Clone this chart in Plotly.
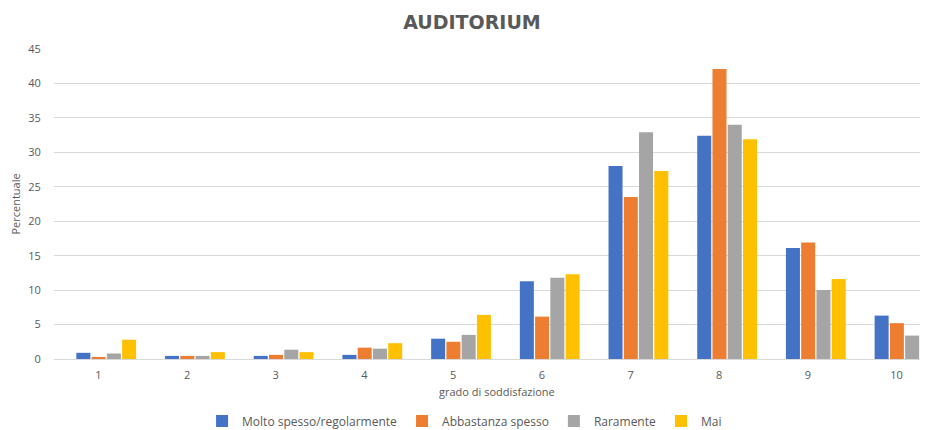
import plotly.graph_objects as go

categories = [1, 2, 3, 4, 5, 6, 7, 8, 9, 10]
tick_labels = ["1", "2", "3", "4", "5", "6", "7", "8", "9", "10"]
molto_spesso = [0.9, 0.45, 0.45, 0.6, 2.95, 11.3, 28.0, 32.4, 16.1, 6.3]
abbastanza_spesso = [0.3, 0.45, 0.6, 1.65, 2.5, 6.15, 23.5, 42.1, 16.9, 5.2]
raramente = [0.8, 0.45, 1.35, 1.5, 3.5, 11.8, 32.9, 34.0, 10.0, 3.4]
mai = [2.8, 1.0, 1.0, 2.3, 6.4, 12.3, 27.3, 31.9, 11.6, 2.8]
y_ticks = [0, 5, 10, 15, 20, 25, 30, 35, 40, 45]

series = [
    ("Molto spesso/regolarmente", molto_spesso, "#4472C4"),
    ("Abbastanza spesso", abbastanza_spesso, "#ED7D31"),
    ("Raramente", raramente, "#A5A5A5"),
    ("Mai", mai, "#FFC000"),
]

FONT = "Open Sans"
TXT = "#595959"

bar_w = 0.158
offsets = [-0.248, -0.076, 0.096, 0.268]

fig = go.Figure()
for (name, vals, color), off in zip(series, offsets):
    fig.add_trace(go.Bar(
        x=categories, y=vals, name=name,
        marker=dict(color=color, line=dict(width=0)),
        width=bar_w, offset=off,
    ))

# page body has an 8px margin; layout compensates for it
fig.update_layout(
    width=928, height=430,
    margin=dict(l=46, r=0, t=41, b=79, autoexpand=False),
    paper_bgcolor="white", plot_bgcolor="white",
    font=dict(family=FONT, color=TXT, size=11),
    title=dict(text="<b>AUDITORIUM</b>", x=0.5, xanchor="center",
               y=1 - 14/430, yanchor="middle",
               font=dict(family="DejaVu Sans", size=19, color=TXT)),
    barmode="overlay",
    showlegend=True,
    legend=dict(orientation="h", xref="container", x=0.492, xanchor="center",
                yref="container", y=1 - 413/430, yanchor="middle",
                font=dict(family=FONT, size=12, color=TXT),
                itemwidth=30, tracegroupgap=0),
    xaxis=dict(range=[0.5, 10.444], tickvals=categories, ticktext=tick_labels,
               showgrid=False, zeroline=False, automargin=False,
               showline=True, linecolor="#D9D9D9", linewidth=1,
               ticks="outside", ticklen=6, tickcolor="rgba(0,0,0,0)",
               tickfont=dict(size=11, color=TXT)),
    yaxis=dict(range=[0, 45], tickvals=y_ticks, automargin=False,
               showgrid=True, gridcolor="#D9D9D9", gridwidth=1,
               zeroline=False, showline=False,
               ticks="outside", ticklen=10, tickcolor="rgba(0,0,0,0)",
               tickfont=dict(size=11, color=TXT),
               title=dict(text="Percentuale", standoff=14,
                          font=dict(size=11, color=TXT))),
    annotations=[dict(text="grado di soddisfazione", x=5.5, xref="x",
                      xanchor="center",
                      yref="paper", y=-0.106, yanchor="middle",
                      showarrow=False, font=dict(size=11, color=TXT))],
)

fig.write_html("out.html")
